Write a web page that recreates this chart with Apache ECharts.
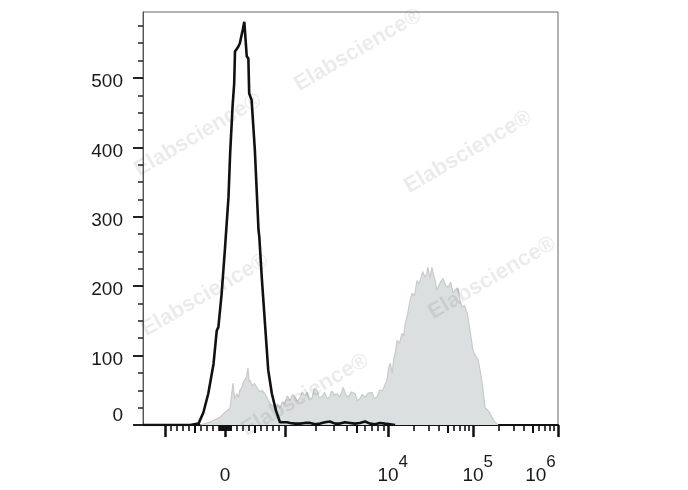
<!DOCTYPE html>
<html><head><meta charset="utf-8">
<script src="https://cdn.jsdelivr.net/npm/echarts@6/dist/echarts.min.js"></script>
<style>html,body{margin:0;padding:0;background:#fff}#c{width:688px;height:490px}</style>
</head><body><div id="c"></div>
<script>
// ---- data (x in display channels 0..1024 of a biexponential axis, y = cell count) ----
const channelMax = 1024;
const yMax = 595;
const yLabelValues = [0, 100, 200, 300, 400, 500];
const xLabelValues = [0, 1e4, 1e5, 1e6];
const xLabelBase = ['0', '10', '10', '10'];
const xLabelExp = ['', '4', '5', '6'];

// open (black outline) histogram
const openChannels = [0, 116, 137, 149, 161, 174, 182, 186, 194, 202, 211, 215, 221, 225, 227, 235, 239, 246, 250, 252, 256, 260, 262, 268, 276, 285, 287, 293, 301, 309, 318, 328, 338, 355, 363, 375, 387, 400, 412, 425, 437, 449, 461, 474, 486, 498, 511, 523, 535, 548, 560, 572, 585, 597, 610, 622];
const openCounts   = [0, 0, 2, 18, 45, 88, 136, 141, 189, 252, 329, 391, 459, 492, 538, 545, 550, 569, 581, 579, 531, 528, 478, 468, 396, 281, 271, 213, 146, 79, 45, 21, 4, 4, 3, 2, 2, 3, 3, 1, 2, 4, 5, 2, 2, 4, 3, 2, 3, 5, 2, 1, 3, 2, 1, 0];

// filled (grey) histogram
const filledChannels = [141, 153, 165, 178, 190, 202, 210, 215, 222, 226, 232, 236, 239, 244, 248, 252, 256, 259, 262, 264, 269, 275, 281, 288, 294, 301, 307, 313, 320, 326, 332, 338, 344, 350, 356, 363, 369, 375, 381, 387, 393, 399, 405, 411, 417, 423, 429, 435, 442, 448, 454, 460, 466, 472, 479, 486, 494, 500, 506, 514, 523, 529, 535, 541, 548, 556, 565, 571, 577, 584, 592, 597, 602, 606, 610, 615, 619, 622, 627, 633, 639, 643, 647, 653, 659, 664, 670, 676, 680, 684, 690, 696, 700, 703, 708, 713, 717, 721, 725, 728, 734, 740, 746, 753, 759, 765, 771, 777, 782, 787, 793, 800, 807, 814, 820, 827, 832, 837, 844, 850, 856, 862, 869, 876];
const filledCounts   = [0, 2, 4, 8, 11, 18, 22, 25, 60, 38, 45, 40, 50, 54, 62, 60, 70, 82, 62, 65, 56, 60, 54, 48, 50, 45, 38, 31, 28, 24, 30, 25, 33, 31, 42, 35, 44, 40, 34, 39, 48, 42, 47, 36, 39, 52, 50, 39, 41, 47, 38, 40, 49, 43, 45, 40, 54, 44, 40, 48, 45, 35, 38, 44, 40, 46, 47, 38, 40, 50, 50, 58, 64, 82, 89, 75, 96, 103, 122, 118, 132, 128, 146, 160, 180, 190, 186, 208, 204, 208, 221, 213, 218, 227, 212, 227, 216, 208, 194, 198, 206, 211, 202, 198, 206, 190, 195, 197, 180, 170, 172, 161, 136, 108, 100, 94, 78, 60, 25, 22, 17, 10, 4, 0];

// ---- biexponential display scale (fluorescence value -> channel) ----
const biexZeroChannel = 202.3;
const biexLinearLimit = 1000;
const biexDecades = [[1e3, 350.4], [1e4, 604.5], [1e5, 814.3], [1e6, 1024]];
function toChannel(v) {
  const lin = biexDecades[0][1] - biexZeroChannel;
  if (Math.abs(v) <= biexLinearLimit) return biexZeroChannel + lin * v / biexLinearLimit;
  for (let i = 0; i < biexDecades.length - 1; i++) {
    const [a, ca] = biexDecades[i], [b, cb] = biexDecades[i + 1];
    if (v >= a && v <= b) return ca + (cb - ca) * (Math.log10(v) - Math.log10(a)) / (Math.log10(b) - Math.log10(a));
  }
  return null;
}
const majorVals = [-1000, 0, 1000, 1e4, 1e5, 1e6];
const mediumVals = [-500, 500, 5e3, 5e4, 5e5];
const minorVals = [];
for (let k = 1; k <= 9; k++) { minorVals.push(k * 10, -k * 10); if (k !== 5) minorVals.push(k * 100, -k * 100); }
for (const p of [1e3, 1e4, 1e5]) for (let k = 2; k <= 9; k++) if (k !== 5) minorVals.push(k * p);

const majorCh = majorVals.map(toChannel);
const mediumCh = mediumVals.map(toChannel);
const minorCh = minorVals.map(toChannel);
const labelCh = xLabelValues.map(toChannel);

const yMinorVals = [];
for (let v = 25; v < yMax; v += 25) if (v % 100 !== 0) yMinorVals.push(v);

const font = 'Liberation Sans';
const textColor = '#1a1a1a';
const gridPos = { left: 143, right: 130, top: 12, bottom: 65, outerBoundsMode: 'none', containLabel: false };

function xLabelFormatter(val) {
  let best = 0, bd = Infinity;
  labelCh.forEach((c, i) => { const d = Math.abs(c - val); if (d < bd) { bd = d; best = i; } });
  const b = xLabelBase[best], e = xLabelExp[best];
  if (!e) return '{b|' + b + '}';
  if (best === labelCh.length - 1) return '{b|' + b + '}{el|' + e + '}';
  return '{p|' + e + '}{b|' + b + '}{e|' + e + '}';
}

const wm = [[358, 50], [198, 135], [468, 152], [205, 295], [492, 278], [305, 395]];

const chart = echarts.init(document.getElementById('c'), null, { renderer: 'canvas' });
chart.setOption({
  animation: false,
  backgroundColor: '#fff',
  grid: [
    Object.assign({ show: true, borderColor: '#666', borderWidth: 1, backgroundColor: 'transparent' }, gridPos),
    Object.assign({ show: false }, gridPos),
    Object.assign({ show: false }, gridPos)
  ],
  xAxis: [
    { type: 'value', gridIndex: 0, min: 0, max: channelMax,
      axisLine: { show: true, onZero: false, lineStyle: { color: '#111', width: 2 } },
      axisTick: { show: true, customValues: majorCh, length: 12, lineStyle: { color: '#111', width: 2.5 } },
      axisLabel: { show: true, customValues: labelCh, formatter: xLabelFormatter, margin: 29,
        rich: {
          b: { fontFamily: font, fontSize: 19, color: textColor, lineHeight: 31, verticalAlign: 'bottom' },
          e: { fontFamily: font, fontSize: 17, color: textColor, verticalAlign: 'top' },
          el: { fontFamily: font, fontSize: 17, color: textColor, verticalAlign: 'top', padding: [0, 35, 0, 0] },
          p: { fontFamily: font, fontSize: 17, color: 'rgba(0,0,0,0)', verticalAlign: 'top' }
        } },
      splitLine: { show: false } },
    { type: 'value', gridIndex: 1, min: 0, max: channelMax,
      axisLine: { show: false },
      axisTick: { show: true, customValues: mediumCh, length: 8, lineStyle: { color: '#111', width: 2 } },
      axisLabel: { show: false }, splitLine: { show: false } },
    { type: 'value', gridIndex: 2, min: 0, max: channelMax,
      axisLine: { show: false },
      axisTick: { show: true, customValues: minorCh, length: 6, lineStyle: { color: '#111', width: 1.6 } },
      axisLabel: { show: false }, splitLine: { show: false } }
  ],
  yAxis: [
    { type: 'value', gridIndex: 0, min: 0, max: yMax,
      axisLine: { show: true, onZero: false, lineStyle: { color: '#555', width: 1 } },
      axisTick: { show: true, customValues: yLabelValues, length: 10, lineStyle: { color: '#222', width: 2 } },
      axisLabel: { show: true, customValues: yLabelValues, margin: 20, padding: [8, 0, 0, 0],
        formatter: v => v === 0 ? '{z|0}' : '{n|' + v + '}',
        rich: {
          n: { fontFamily: font, fontSize: 19, color: textColor },
          z: { fontFamily: font, fontSize: 19, color: textColor, lineHeight: 45, verticalAlign: 'top' }
        } },
      splitLine: { show: false } },
    { type: 'value', gridIndex: 1, min: 0, max: yMax,
      axisLine: { show: false },
      axisTick: { show: true, customValues: yMinorVals, length: 5, lineStyle: { color: '#222', width: 1.5 } },
      axisLabel: { show: false }, splitLine: { show: false } },
    { type: 'value', gridIndex: 2, min: 0, max: yMax, show: false }
  ],
  series: [
    { type: 'line', xAxisIndex: 0, yAxisIndex: 0, symbol: 'none', z: 2,
      data: filledChannels.map((c, i) => [c, filledCounts[i]]),
      lineStyle: { color: '#c9caca', width: 1.2 },
      areaStyle: { color: '#dcdfdf', opacity: 1 } },
    { type: 'line', xAxisIndex: 0, yAxisIndex: 0, symbol: 'none', z: 3,
      data: openChannels.map((c, i) => [c, openCounts[i]]),
      lineStyle: { color: '#111', width: 2.6 } }
  ],
  graphic: wm.map(p => ({
    type: 'text', x: p[0], y: p[1], rotation: 0.53, z: 100, silent: true,
    style: { text: 'Elabscience®', fontFamily: font, fontWeight: 'bold', fontSize: 22,
      fill: 'rgba(0,0,0,0.08)', align: 'center', verticalAlign: 'middle' }
  }))
});
</script>
</body></html>
